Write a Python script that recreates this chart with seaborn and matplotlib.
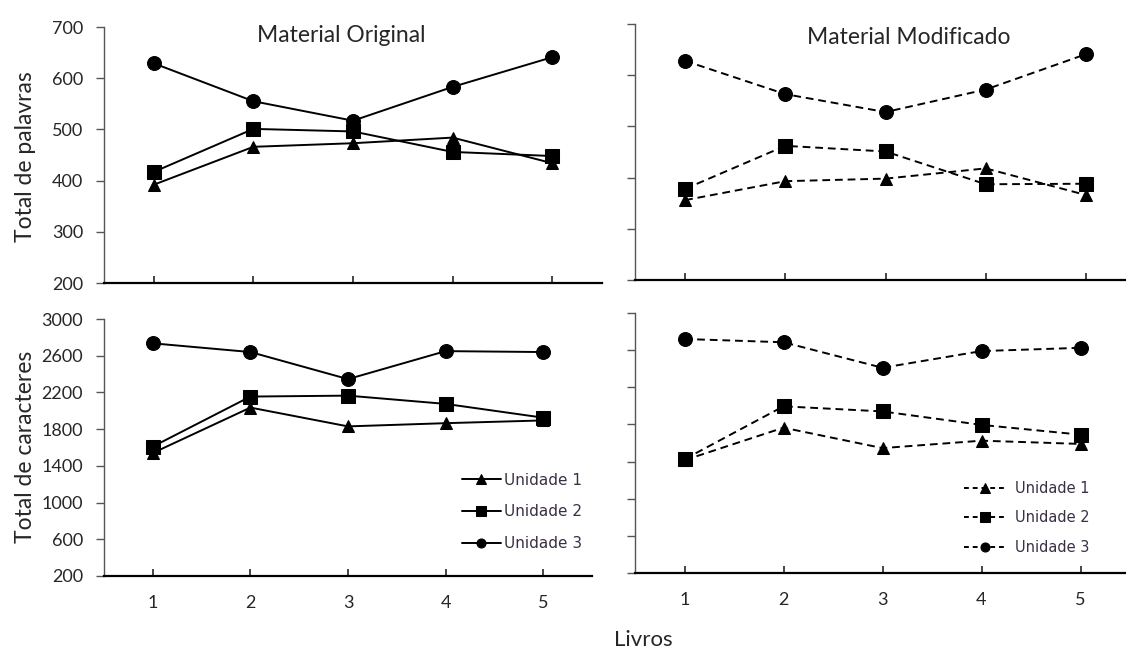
import matplotlib
matplotlib.use("Agg")
import matplotlib.pyplot as plt
import seaborn as sns

# dados
livros = [1, 2, 3, 4, 5]
unidades = ["Unidade 1", "Unidade 2", "Unidade 3"]
marcadores = ["^", "s", "o"]

# Total de palavras
pal_orig_u1 = [392, 466, 473, 484, 434]
pal_orig_u2 = [417, 501, 496, 456, 448]
pal_orig_u3 = [629, 555, 517, 583, 641]
pal_mod_u1 = [356, 393, 398, 418, 366]
pal_mod_u2 = [378, 462, 451, 387, 388]
pal_mod_u3 = [628, 563, 528, 572, 641]

# Total de caracteres
car_orig_u1 = [1540, 2035, 1830, 1865, 1895]
car_orig_u2 = [1610, 2155, 2165, 2075, 1925]
car_orig_u3 = [2735, 2640, 2345, 2650, 2640]
car_mod_u1 = [1415, 1765, 1545, 1625, 1590]
car_mod_u2 = [1425, 1995, 1940, 1795, 1690]
car_mod_u3 = [2720, 2685, 2410, 2590, 2625]

sns.set_style("white")
plt.rcParams["font.family"] = ["Lato", "DejaVu Sans"]

W, H = 1126, 650
fig = plt.figure(figsize=(W / 100, H / 100), dpi=100)


def caixa(x0, x1, ytop, ybot):
    # posição do eixo em pixels -> fração da figura
    return [x0 / W, 1 - ybot / H, (x1 - x0) / W, (ybot - ytop) / H]


ax_po = fig.add_axes(caixa(104, 602, 27, 283))
ax_pm = fig.add_axes(caixa(635, 1136, 24, 280))
ax_co = fig.add_axes(caixa(104, 592, 319, 576))
ax_cm = fig.add_axes(caixa(635, 1130, 313, 573))

paineis = [
    (ax_po, [pal_orig_u1, pal_orig_u2, pal_orig_u3], "-"),
    (ax_pm, [pal_mod_u1, pal_mod_u2, pal_mod_u3], "--"),
    (ax_co, [car_orig_u1, car_orig_u2, car_orig_u3], "-"),
    (ax_cm, [car_mod_u1, car_mod_u2, car_mod_u3], "--"),
]
tamanhos = {"^": 9, "s": 9.5, "o": 10}

for ax, series, ls in paineis:
    for nome, mk, vals in zip(unidades, marcadores, series):
        sns.lineplot(x=livros, y=vals, ax=ax, color="black", marker=mk,
                     markersize=tamanhos[mk], markeredgecolor="black",
                     linestyle=ls, linewidth=1.4, label=nome, legend=False)
        if ls == "--":
            ax.lines[-1].set_dashes((4, 2.5))
    for s in ["top", "right"]:
        ax.spines[s].set_visible(False)
    ax.spines["left"].set_color("#555555")
    ax.spines["left"].set_linewidth(1.0)
    ax.spines["bottom"].set_color("black")
    ax.spines["bottom"].set_linewidth(1.6)
    ax.set_xlim(0.5, 5.5)
    ax.set_xticks(livros)
    ax.tick_params(axis="x", bottom=True, direction="in", length=5, width=1.2,
                   labelsize=13, pad=14)
    ax.tick_params(axis="y", left=True, direction="out", length=6, width=1.0,
                   color="#555555", labelsize=13, pad=9)

for ax in [ax_po, ax_pm]:
    ax.set_ylim(200, 700)
    ax.set_yticks([200, 300, 400, 500, 600, 700])
    ax.tick_params(axis="x", labelbottom=False)
for ax in [ax_co, ax_cm]:
    ax.set_ylim(200, 3000)
    ax.set_yticks([200, 600, 1000, 1400, 1800, 2200, 2600, 3000])

ax_pm.tick_params(axis="y", labelleft=False)
ax_cm.tick_params(axis="y", labelleft=False)

fig.text(26 / W, 1 - 157 / H, "Total de palavras", rotation=90,
         ha="center", va="center", fontsize=16.5)
fig.text(26 / W, 1 - 447 / H, "Total de caracteres", rotation=90,
         ha="center", va="center", fontsize=16.5)
fig.text(341 / W, 1 - 36 / H, "Material Original", ha="center", va="center",
         fontsize=16.5)
fig.text(909 / W, 1 - 38 / H, "Material Modificado", ha="center", va="center",
         fontsize=16.5)
fig.text(643 / W, 1 - 640 / H, "Livros", ha="center", va="center", fontsize=16)

for ax, cx, cy, fs, hl, tp, ls_ in [(ax_co, 522, 512, 11, 2.6, 0.2, 1.1),
                                     (ax_cm, 1027, 518, 10.5, 2.9, 0.6, 1.0)]:
    leg = ax.legend(loc="center", bbox_to_anchor=(cx / W, 1 - cy / H),
                    bbox_transform=fig.transFigure, frameon=False, borderpad=0,
                    handlelength=hl, labelspacing=ls_, handletextpad=tp,
                    prop={"family": "DejaVu Sans", "size": fs})
    for h in leg.legend_handles:
        h.set_markersize(6.5)
        if ax is ax_cm:
            h.set_dashes((2.5, 2))
    for t in leg.get_texts():
        t.set_color("#3a2f45")

fig.savefig("out.png", dpi=100)
